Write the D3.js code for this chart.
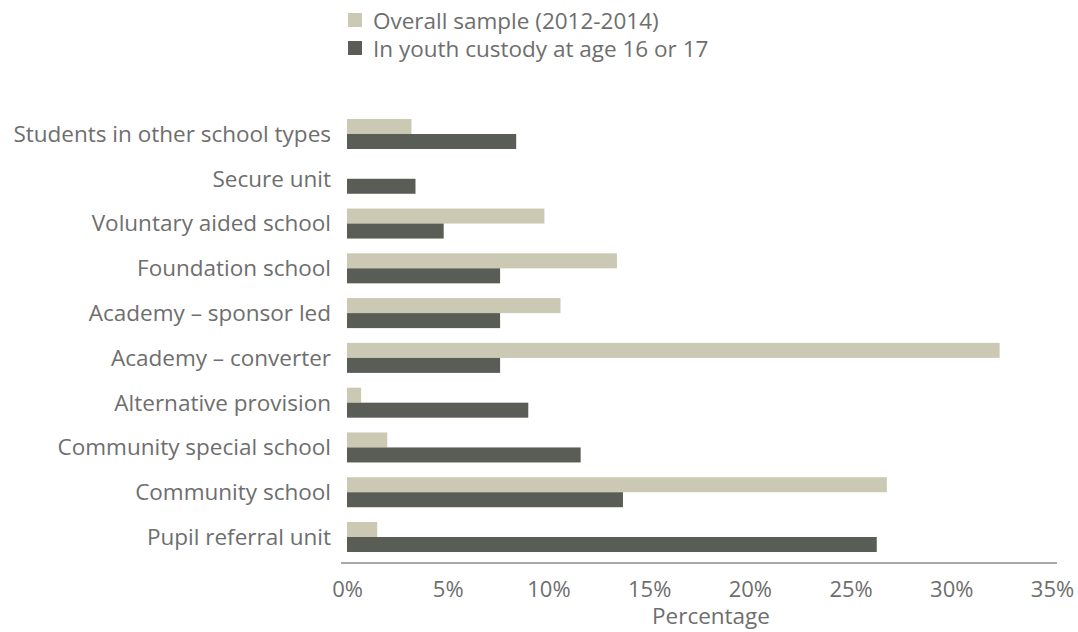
<!DOCTYPE html>
<html>
<head>
<meta charset="utf-8">
<script src="https://cdnjs.cloudflare.com/ajax/libs/d3/7.8.5/d3.min.js"></script>
<style>
  body { margin: 0; background: white; }
  text { font-family: "Open Sans", "Noto Sans", sans-serif; fill: #6e6e6e; }
</style>
</head>
<body>
<div id="vis"></div>
<script>
// categories, top to bottom
let categories = [
  "Students in other school types",
  "Secure unit",
  "Voluntary aided school",
  "Foundation school",
  "Academy – sponsor led",
  "Academy – converter",
  "Alternative provision",
  "Community special school",
  "Community school",
  "Pupil referral unit"
];
let seriesNames = ["Overall sample (2012-2014)", "In youth custody at age 16 or 17"];
let overall = [3.2, 0, 9.8, 13.4, 10.6, 32.4, 0.7, 2.0, 26.8, 1.5];
let custody = [8.4, 3.4, 4.8, 7.6, 7.6, 7.6, 9.0, 11.6, 13.7, 26.3];
let tickValues = [0, 5, 10, 15, 20, 25, 30, 35];
let colors = ["#cbc9b3", "#5a5d55"];

let W = 1078, H = 632;
let svg = d3.select('#vis').append('svg')
  .attr('width', W)
  .attr('height', H);

// scales
let x = d3.scaleLinear().domain([0, 35]).range([347, 1052]);
let y = d3.scaleBand().domain(categories).range([111.6, 559.4])
  .paddingInner(0.33).paddingOuter(0.165);
let ySub = d3.scaleBand().domain([0, 1]).range([0, y.bandwidth()]);

let rows = categories.map((c, i) => ({cat: c, vals: [overall[i], custody[i]]}));

// bars
let g = svg.selectAll('g.row').data(rows).enter().append('g')
  .attr('class', 'row')
  .attr('transform', d => `translate(0,${y(d.cat)})`);

g.selectAll('rect').data(d => d.vals.map((v, k) => ({v, k})).filter(d => d.v > 0))
  .enter().append('rect')
  .attr('x', x(0))
  .attr('y', d => ySub(d.k))
  .attr('width', d => x(d.v) - x(0))
  .attr('height', ySub.bandwidth())
  .attr('fill', d => colors[d.k]);

// category labels
svg.selectAll('text.cat').data(categories).enter().append('text')
  .attr('class', 'cat')
  .attr('x', 331)
  .attr('y', d => y(d) + y.bandwidth() / 2)
  .attr('dy', '0.35em')
  .attr('text-anchor', 'end')
  .style('font-size', '22.5px')
  .text(d => d);

// x axis
let xAxis = d3.axisBottom(x).tickValues(tickValues).tickSize(0).tickPadding(18)
  .tickFormat(d => d + '%');
let ax = svg.append('g').attr('transform', 'translate(0,563)').call(xAxis);
ax.select('.domain').attr('d', `M${x(0) - 6},0H${x(35) + 5}`).attr('stroke', '#8a8a8a').attr('stroke-width', 1.5);
ax.selectAll('text').style('font-size', '22px').attr('fill', '#6e6e6e')
  .attr('font-family', null);

svg.append('text')
  .attr('x', 711)
  .attr('y', 624)
  .attr('text-anchor', 'middle')
  .style('font-size', '22.5px')
  .text('Percentage');

// legend
let leg = svg.selectAll('g.leg').data(seriesNames).enter().append('g')
  .attr('class', 'leg')
  .attr('transform', (d, i) => `translate(348,${13 + i * 28})`);
leg.append('rect').attr('width', 14).attr('height', 14).attr('fill', (d, i) => colors[i]);
leg.append('text').attr('x', 25).attr('y', 8).attr('dy', '0.35em')
  .style('font-size', '22.5px').text(d => d);
</script>
</body>
</html>
